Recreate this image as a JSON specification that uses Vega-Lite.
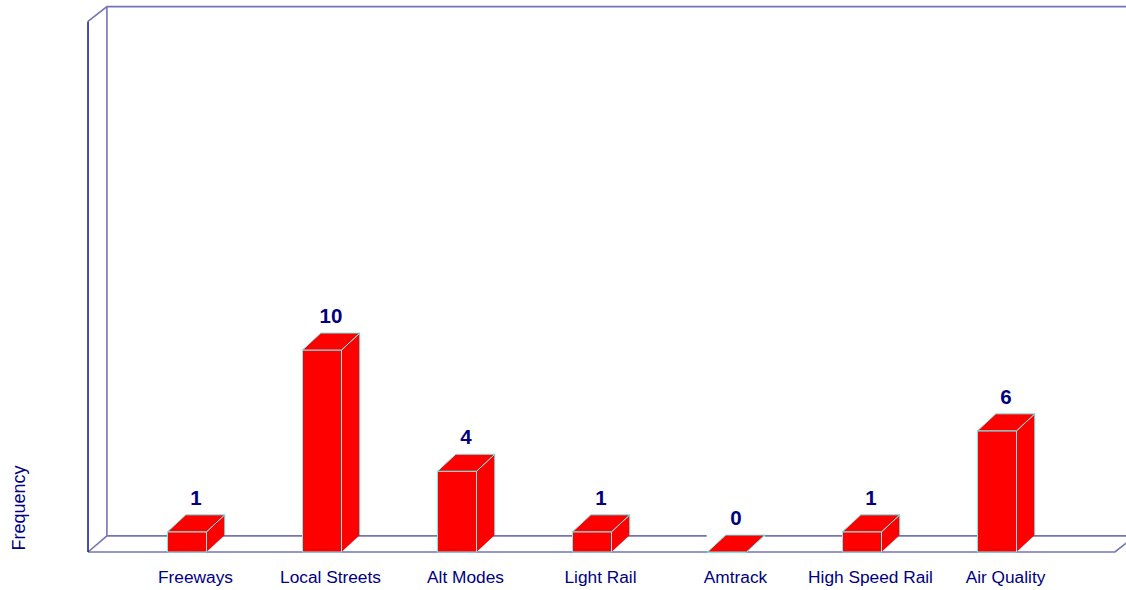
{
  "$schema": "https://vega.github.io/schema/vega-lite/v6.json",
  "width": 1126,
  "height": 552,
  "autosize": {"type": "none"},
  "padding": {"left": 0, "top": 0, "right": 0, "bottom": 38},
  "background": "white",
  "config": {"view": {"stroke": null}, "font": "Liberation Sans"},
  "datasets": {
    "bars": [
      {"topic": "Freeways", "frequency": 1},
      {"topic": "Local Streets", "frequency": 10},
      {"topic": "Alt Modes", "frequency": 4},
      {"topic": "Light Rail", "frequency": 1},
      {"topic": "Amtrack", "frequency": 0},
      {"topic": "High Speed Rail", "frequency": 1},
      {"topic": "Air Quality", "frequency": 6}
    ],
    "frame": [
      {"edge": "top", "tone": "wall", "slot": 0.267, "level": 26.27},
      {"edge": "top", "tone": "wall", "slot": 0.407, "level": 27.0},
      {"edge": "top", "tone": "wall", "slot": 7.96, "level": 27.0},
      {"edge": "backleft", "tone": "wall", "slot": 0.407, "level": 27.0},
      {"edge": "backleft", "tone": "wall", "slot": 0.407, "level": 0.8},
      {"edge": "floorA", "tone": "wall", "slot": 0.267, "level": 0},
      {"edge": "floorA", "tone": "wall", "slot": 0.407, "level": 0.8},
      {"edge": "floorA", "tone": "wall", "slot": 4.85, "level": 0.8},
      {"edge": "floorB", "tone": "wall", "slot": 5.28, "level": 0.8},
      {"edge": "floorB", "tone": "wall", "slot": 7.96, "level": 0.8},
      {"edge": "front", "tone": "wall", "slot": 0.267, "level": 0},
      {"edge": "front", "tone": "wall", "slot": 7.874, "level": 0},
      {"edge": "front", "tone": "wall", "slot": 7.96, "level": 0.45},
      {"edge": "frontleft", "tone": "dark", "slot": 0.267, "level": 26.27},
      {"edge": "frontleft", "tone": "dark", "slot": 0.267, "level": 0}
    ]
  },
  "encoding": {
    "y": {
      "type": "quantitative",
      "scale": {"domain": [0, 27.33], "nice": false},
      "axis": {"domain": false, "ticks": false, "labels": false, "grid": false, "title": "Frequency", "titleColor": "#000080", "titleFont": "Liberation Sans", "titleFontWeight": "normal", "titleFontSize": 18, "titleX": 24, "titleY": 507.5, "titleAngle": 270, "titleAlign": "center", "titleBaseline": "alphabetic"}
    }
  },
  "layer": [
    {
      "data": {"name": "frame"},
      "mark": {"type": "line", "strokeWidth": 1.6, "interpolate": "linear"},
      "encoding": {
        "x": {"field": "slot", "type": "quantitative", "axis": null, "scale": {"domain": [-0.385, 7.956], "nice": false, "zero": false}},
        "y": {"field": "level"},
        "order": {"field": "slot"},
        "detail": {"field": "edge"},
        "color": {"field": "tone", "type": "nominal", "legend": null, "scale": {"domain": ["wall", "dark"], "range": ["#7474b8", "#20209c"]}}
      }
    },
    {
      "data": {"name": "bars"},
      "mark": {"type": "point", "size": 4, "filled": true, "fill": "#ff0000", "stroke": "#70f0f0", "strokeWidth": 1, "opacity": 1},
      "encoding": {
        "x": {"field": "topic", "type": "nominal", "sort": null, "axis": null, "scale": {"type": "band", "range": [119.5, 1064.5], "paddingInner": 0, "paddingOuter": 0}},
        "y": {"field": "frequency"},
        "shape": {
          "field": "frequency", "type": "ordinal", "legend": null,
          "scale": {
            "domain": [0, 1, 4, 6, 10],
            "range": [
              "M19.5,0L37.8,-17",
              "M19.5,20.2L19.5,0L37.8,-17L37.8,3.2",
              "M19.5,80.8L19.5,0L37.8,-17L37.8,63.8",
              "M19.5,121.2L19.5,0L37.8,-17L37.8,104.2",
              "M19.5,202L19.5,0L37.8,-17L37.8,185"
            ]
          }
        }
      }
    },
    {
      "data": {"name": "bars"},
      "mark": {"type": "bar", "width": 39, "fill": "#ff0000", "stroke": "#70f0f0", "strokeWidth": 1},
      "encoding": {
        "x": {
          "field": "topic", "type": "nominal", "sort": null,
          "scale": {"type": "band", "range": [119.5, 1064.5], "paddingInner": 0, "paddingOuter": 0},
          "axis": {"title": null, "domain": false, "ticks": false, "grid": false, "labelAngle": 0, "labelColor": "#000080", "labelFont": "Liberation Sans", "labelFontSize": 17.3, "labelPadding": 16, "labelOffset": 8.5}
        },
        "y": {"field": "frequency"}
      }
    },
    {
      "data": {"name": "bars"},
      "mark": {"type": "point", "shape": "M-19.5,0L19.5,0L37.8,-17L-1.2,-17Z", "size": 4, "filled": true, "fill": "#ff0000", "stroke": "#70f0f0", "strokeWidth": 1, "opacity": 1},
      "encoding": {
        "x": {"field": "topic", "type": "nominal", "sort": null, "axis": null, "scale": {"type": "band", "range": [119.5, 1064.5], "paddingInner": 0, "paddingOuter": 0}},
        "y": {"field": "frequency"}
      }
    },
    {
      "data": {"name": "bars"},
      "mark": {"type": "text", "dx": 9, "dy": -27, "baseline": "alphabetic", "align": "center", "font": "Liberation Sans", "fontWeight": "bold", "fontSize": 20.5, "color": "#000080"},
      "encoding": {
        "x": {"field": "topic", "type": "nominal", "sort": null, "axis": null, "scale": {"type": "band", "range": [119.5, 1064.5], "paddingInner": 0, "paddingOuter": 0}},
        "y": {"field": "frequency"},
        "text": {"field": "frequency", "type": "quantitative"}
      }
    }
  ],
  "resolve": {"scale": {"x": "independent"}}
}
